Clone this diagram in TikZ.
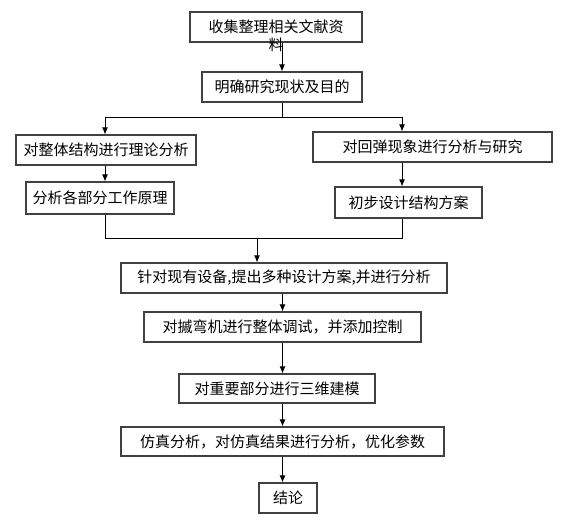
\documentclass[tikz,border=0pt]{standalone}
\usepackage{fontspec}
\setmainfont{Noto Sans CJK SC}
\usetikzlibrary{arrows.meta}

\begin{document}
\begin{tikzpicture}[
  x=1pt, y=-1pt,
  box/.style={draw=black!75, line width=1.1pt, minimum height=30pt, inner sep=0pt, font=\fontsize{15}{18}\selectfont},
  arrow/.style={-{Latex[length=7pt,width=6pt]}, line width=0.9pt},
  link/.style={line width=0.9pt}
]
\useasboundingbox (0,0) rectangle (570,521);

\node[box, minimum width=172pt, label={[font=\fontsize{15}{18}\selectfont, inner sep=0pt, label distance=-5pt]below:料}] (collect) at (276,27) {收集整理相关文献资};
\node[box, minimum width=160pt] (aim) at (282,87) {明确研究现状及目的};
\node[box, minimum width=180pt] (theory) at (106,150) {对整体结构进行理论分析};
\node[box, minimum width=239pt] (springback) at (432.5,147) {对回弹现象进行分析与研究};
\node[box, minimum width=148pt, minimum height=32pt] (principle) at (100,198) {分析各部分工作原理};
\node[box, minimum width=147pt, minimum height=31pt] (scheme) at (408.5,202.5) {初步设计结构方案};
\node[box, minimum width=326pt] (design) at (284,278) {针对现有设备,提出多种设计方案,并进行分析};
\node[box, minimum width=277pt] (debug) at (282.5,327) {对摵弯机进行整体调试，并添加控制};
\node[box, minimum width=196pt, minimum height=29pt] (model) at (277,388.5) {对重要部分进行三维建模};
\node[box, minimum width=323pt, minimum height=29pt] (simul) at (282.5,441.5) {仿真分析，对仿真结果进行分析，优化参数};
\node[box, minimum width=58pt] (concl) at (288,498) {结论};

\coordinate (splitL) at (105,117);
\coordinate (splitR) at (402,117);
\coordinate (joinL) at (105,238);
\coordinate (joinR) at (402,238);
\coordinate (join) at (257,238);

\draw[arrow] (collect.south -| aim) -- (aim.north);
\draw[link] (aim.south) |- (splitL);
\draw[link] (aim.south) |- (splitR);
\draw[arrow] (splitL) -- (splitL |- theory.north);
\draw[arrow] (splitR) -- (splitR |- springback.north);
\draw[arrow] (splitL |- theory.south) -- (splitL |- principle.north);
\draw[arrow] (splitR |- springback.south) -- (splitR |- scheme.north);
\draw[link] (joinL |- principle.south) -- (joinL) -- (joinR) -- (joinR |- scheme.south);
\draw[arrow] (join) -- (join |- design.north);
\draw[arrow] (design.south -| debug) -- (debug.north);
\draw[arrow] (debug.south) -- (debug.south |- model.north);
\draw[arrow] (model.south -| simul) -- (simul.north);
\draw[arrow] (simul.south) -- (simul.south |- concl.north);

\end{tikzpicture}
\end{document}
